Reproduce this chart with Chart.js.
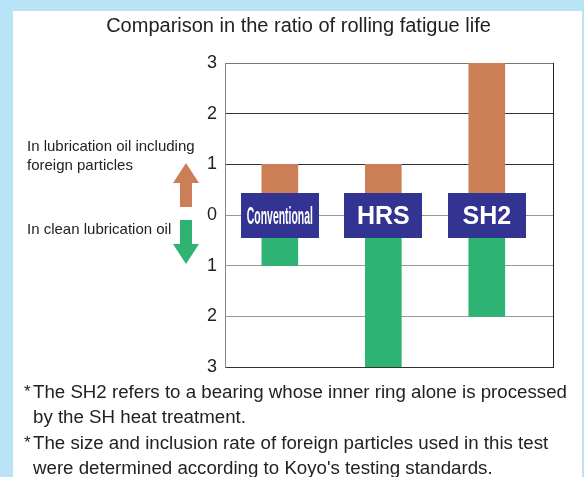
<!DOCTYPE html>
<html>
<head>
<meta charset="utf-8">
<script src="https://cdn.jsdelivr.net/npm/chart.js@4.4.1/dist/chart.umd.min.js"></script>
<style>
  html, body { margin: 0; padding: 0; }
  body {
    width: 584px; height: 477px; overflow: hidden; position: relative;
    background: #b9e3f7;
    font-family: "Liberation Sans", Arial, sans-serif; color: #222;
  }
  #panel { position: absolute; left: 13px; top: 11px; width: 569px; height: 466px; background: #fff; }
  #chart { position: absolute; left: 0; top: 0; }
  .txt { position: absolute; white-space: nowrap; }
  #title { left: 0; width: 597px; top: 13px; text-align: center; font-size: 20px; line-height: 24px; }
  .side { left: 27px; font-size: 15px; line-height: 19px; }
  .note { left: 33px; font-size: 18.7px; line-height: 25px; }
  .star { position: absolute; left: -9px; top: 0; font-size: 17px; }
</style>
</head>
<body>
<div id="panel"></div>
<canvas id="chart" width="584" height="477"></canvas>
<div class="txt" id="title">Comparison in the ratio of rolling fatigue life</div>
<div class="txt side" style="top:136px">In lubrication oil including<br>foreign particles</div>
<div class="txt side" style="top:219px">In clean lubrication oil</div>
<div class="txt note" style="top:379px"><span class="star">*</span>The SH2 refers to a bearing whose inner ring alone is processed<br>by the SH heat treatment.</div>
<div class="txt note" style="top:430px"><span class="star">*</span>The size and inclusion rate of foreign particles used in this test<br>were determined according to Koyo's testing standards.</div>
<script>
const categories = ['Conventional', 'HRS', 'SH2'];
const foreignOil = [1, 1, 3];   // ratio in lubrication oil with foreign particles (up)
const cleanOil = [1, 3, 2];     // ratio in clean lubrication oil (down)
const yTicks = [-3, -2, -1, 0, 1, 2, 3];

const ORANGE = '#cc7f56';
const GREEN = '#2eb373';
const NAVY = '#333391';

// navy label boxes sitting on the zero line, plus the right frame line
const labelBoxes = {
    id: 'labelBoxes',
    afterDraw(chart) {
        const ctx = chart.ctx;
        const xs = chart.scales.x, ys = chart.scales.y;
        const area = chart.chartArea;
        const zero = ys.getPixelForValue(0);

        ctx.save();
        ctx.strokeStyle = '#222';
        ctx.lineWidth = 1;
        ctx.beginPath();
        ctx.moveTo(area.right + 0.5, area.top);
        ctx.lineTo(area.right + 0.5, area.bottom + 1);
        ctx.stroke();

        categories.forEach((name, i) => {
            const cx = xs.getPixelForValue(i);
            ctx.fillStyle = NAVY;
            ctx.fillRect(Math.round(cx - 39), Math.round(zero - 22), 78, 45);
            ctx.fillStyle = '#fff';
            ctx.textAlign = 'center';
            ctx.textBaseline = 'middle';
            if (name.length > 4) {
                // condensed lettering for the long name
                ctx.font = 'bold 24px "Liberation Sans", Arial, sans-serif';
                const w = ctx.measureText(name).width;
                ctx.save();
                ctx.translate(cx, zero + 2);
                ctx.scale(66 / w, 1);
                ctx.fillText(name, 0, 0);
                ctx.restore();
            } else {
                ctx.font = 'bold 25px "Liberation Sans", Arial, sans-serif';
                ctx.fillText(name, cx, zero + 2);
            }
        });

        // up / down arrows left of the axis
        const ax = 186;
        ctx.fillStyle = ORANGE;
        ctx.beginPath();
        ctx.moveTo(ax, zero - 52);
        ctx.lineTo(ax + 13, zero - 32);
        ctx.lineTo(ax + 6, zero - 32);
        ctx.lineTo(ax + 6, zero - 8);
        ctx.lineTo(ax - 6, zero - 8);
        ctx.lineTo(ax - 6, zero - 32);
        ctx.lineTo(ax - 13, zero - 32);
        ctx.closePath();
        ctx.fill();

        ctx.fillStyle = GREEN;
        ctx.beginPath();
        ctx.moveTo(ax, zero + 49);
        ctx.lineTo(ax + 13, zero + 29);
        ctx.lineTo(ax + 6, zero + 29);
        ctx.lineTo(ax + 6, zero + 5);
        ctx.lineTo(ax - 6, zero + 5);
        ctx.lineTo(ax - 6, zero + 29);
        ctx.lineTo(ax - 13, zero + 29);
        ctx.closePath();
        ctx.fill();
        ctx.restore();
    }
};

function gridColor(ctx) {
    const v = ctx.tick ? ctx.tick.value : 0;
    if (v === 3) return '#777';
    if (v > 0) return '#333';
    if (v === -3) return '#333';
    return '#999';
}

new Chart(document.getElementById('chart'), {
    type: 'bar',
    data: {
        datasets: [{
            label: 'In lubrication oil including foreign particles',
            data: categories.map((c, i) => ({ x: i, y: foreignOil[i] })),
            backgroundColor: ORANGE,
            barThickness: 36
        }, {
            label: 'In clean lubrication oil',
            data: categories.map((c, i) => ({ x: i, y: -cleanOil[i] })),
            backgroundColor: GREEN,
            barThickness: 36
        }]
    },
    options: {
        responsive: false,
        animation: false,
        layout: {
            padding: { top: 63, right: 31, bottom: 110, left: 0 }
        },
        plugins: {
            legend: { display: false },
            tooltip: { enabled: false }
        },
        scales: {
            x: {
                type: 'linear',
                min: -0.53,
                max: 2.64,
                offset: false,
                stacked: true,
                display: false
            },
            y: {
                min: -3,
                max: 3,
                stacked: true,
                afterFit: (s) => { s.width = 225; },
                afterBuildTicks: (s) => { s.ticks = yTicks.map(v => ({ value: v })); },
                ticks: {
                    callback: (v) => Math.abs(v),
                    font: { size: 18, family: '"Liberation Sans", Arial, sans-serif' },
                    color: '#222',
                    padding: 8
                },
                grid: {
                    color: gridColor,
                    drawTicks: false
                },
                border: { color: '#888' }
            }
        }
    },
    plugins: [labelBoxes]
});
</script>
</body>
</html>
